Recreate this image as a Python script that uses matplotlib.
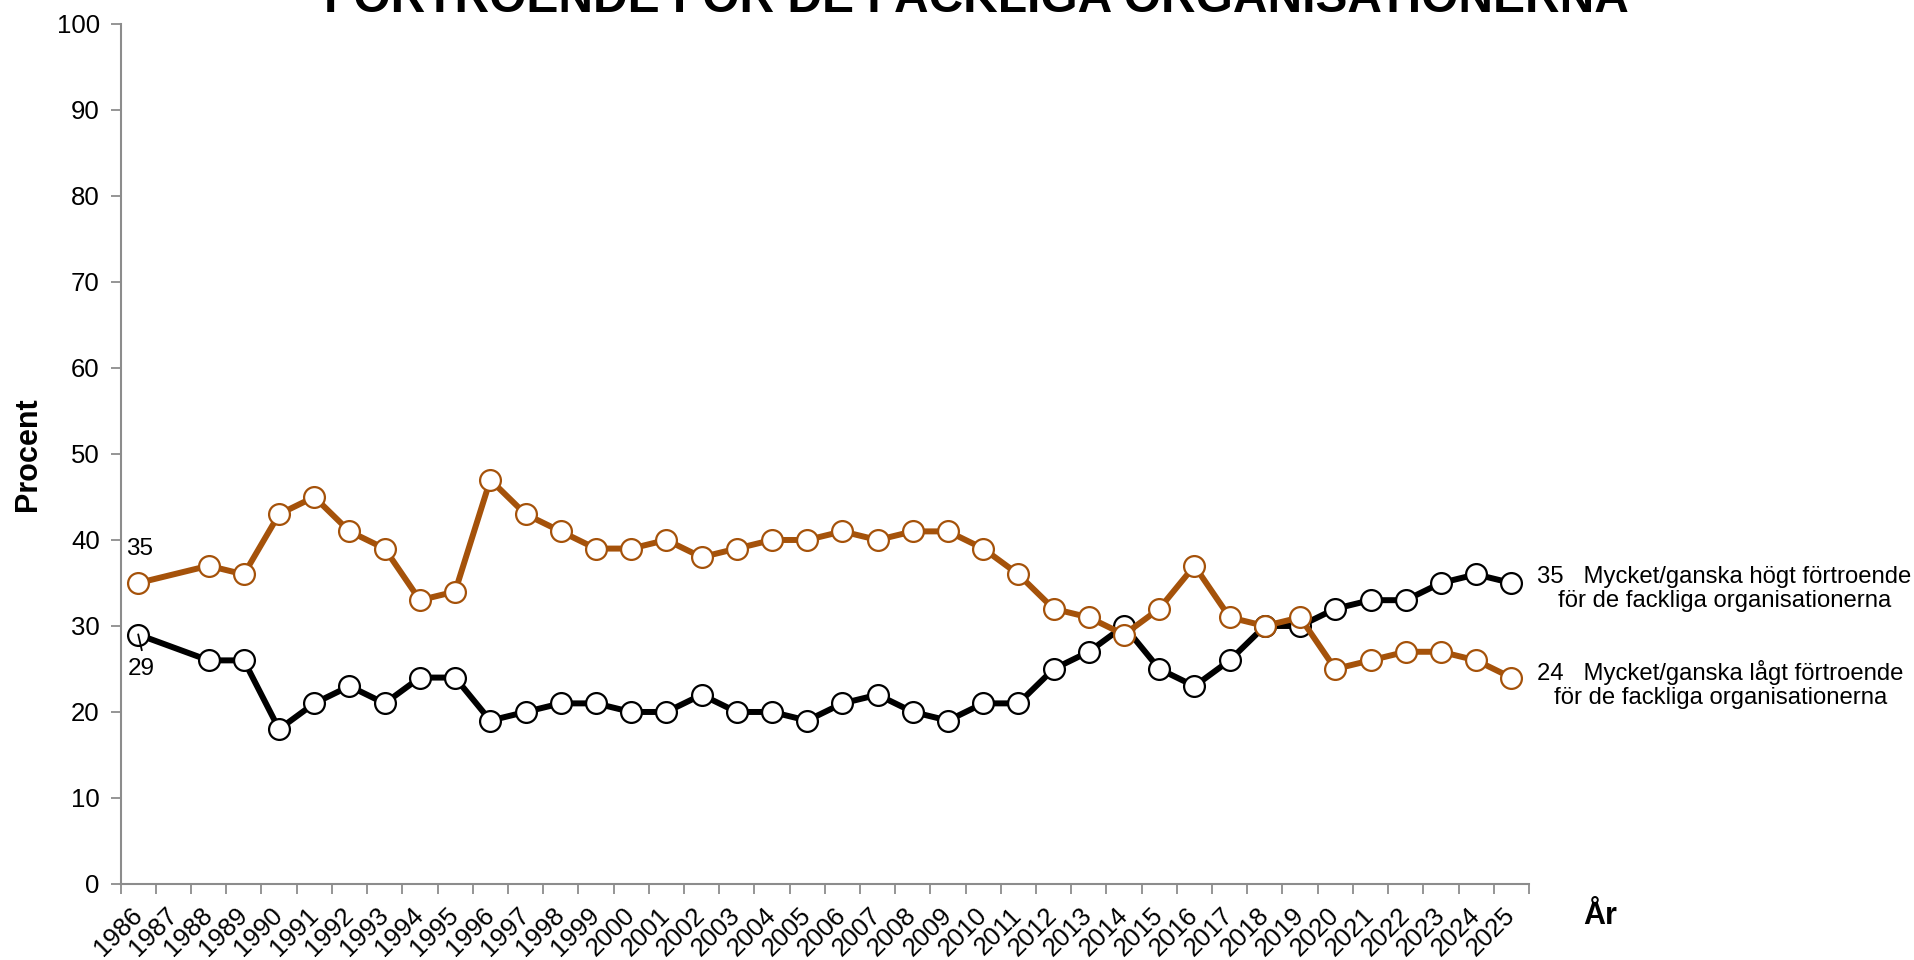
import matplotlib
matplotlib.use("Agg")
from matplotlib import pyplot as plt

plt.rcParams['font.family'] = ['Liberation Sans', 'DejaVu Sans']

# data
years = list(range(1986, 2026))
high = [29, None, 26, 26, 18, 21, 23, 21, 24, 24, 19, 20, 21, 21, 20, 20, 22, 20, 20, 19,
        21, 22, 20, 19, 21, 21, 25, 27, 30, 25, 23, 26, 30, 30, 32, 33, 33, 35, 36, 35]
low = [35, None, 37, 36, 43, 45, 41, 39, 33, 34, 47, 43, 41, 39, 39, 40, 38, 39, 40, 40,
       41, 40, 41, 41, 39, 36, 32, 31, 29, 32, 37, 31, 30, 31, 25, 26, 27, 27, 26, 24]
high_label = "35   Mycket/ganska högt förtroende\nför de fackliga organisationerna"
low_label = "24   Mycket/ganska lågt förtroende\nför de fackliga organisationerna"

black = '#000000'
brown = '#A5520A'

fig = plt.figure(figsize=(19.15, 9.6), dpi=100)
ax = fig.add_axes([0.063, 0.0792, 0.7354, 0.8958])

def plot_series(vals, color, z):
    xs = [i for i, v in enumerate(vals) if v is not None]
    ys = [v for v in vals if v is not None]
    ax.plot(xs, ys, color=color, linewidth=4.3, marker='o', markersize=15,
            markerfacecolor='white', markeredgecolor=color, markeredgewidth=1.6,
            zorder=z, clip_on=False)

plot_series(high, black, 3)
plot_series(low, brown, 4)

ax.set_xlim(-0.5, len(years) - 0.5)
ax.set_ylim(0, 100)
ax.set_yticks(range(0, 101, 10))
ax.set_xticks(range(len(years)))
ax.set_xticklabels([str(y) for y in years], rotation=45, ha='right',
                   rotation_mode='anchor', va='center')
ax.set_xticks([i - 0.5 for i in range(len(years) + 1)], minor=True)
ax.tick_params(axis='x', which='major', length=0, pad=20, labelsize=18.5)
ax.tick_params(axis='x', which='minor', length=7, width=1.3, color='#8c8c8c')
ax.tick_params(axis='y', length=7, width=1.3, color='#8c8c8c', labelsize=18.5, pad=8)

for s in ['top', 'right']:
    ax.spines[s].set_visible(False)
for s in ['left', 'bottom']:
    ax.spines[s].set_color('#8c8c8c')
    ax.spines[s].set_linewidth(1.5)

# start labels
ax.text(-0.36, 38.9, "35", fontsize=17.5, ha='left', va='center')
ax.text(-0.3, 25.0, "29", fontsize=17.5, ha='left', va='center')
ax.plot([0, 0.1], [high[0], 27.2], color='black', lw=1.3, zorder=5, clip_on=False)

# end labels
ax.text(39.74, 34.3, high_label, fontsize=17.2, ha='left', va='center',
        multialignment='center', linespacing=1.15, clip_on=False)
ax.text(39.74, 23.2, low_label, fontsize=17.2, ha='left', va='center',
        multialignment='center', linespacing=1.15, clip_on=False)

ax.set_ylabel("Procent", fontsize=22, fontweight='bold', labelpad=10)
fig.text(0.827, 0.046, "År", fontsize=22, fontweight='bold', ha='left', va='center')
fig.text(0.51, 1 - 12 / 960, "FÖRTROENDE FÖR DE FACKLIGA ORGANISATIONERNA",
         fontsize=34.5, fontweight='bold', ha='center', va='baseline')

fig.savefig("out.png", dpi=100)
